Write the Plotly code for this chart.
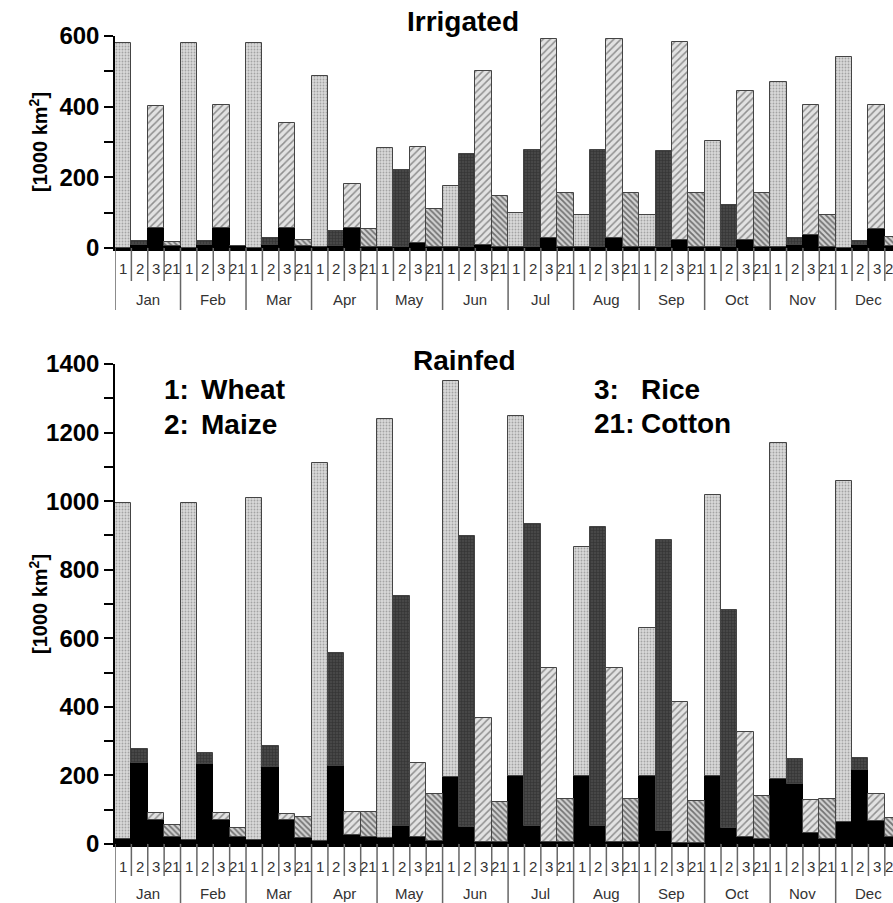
import plotly.graph_objects as go

months = ["Jan", "Feb", "Mar", "Apr", "May", "Jun", "Jul", "Aug", "Sep", "Oct", "Nov", "Dec"]
crop_labels = ["1", "2", "3", "21"]

# Irrigated: total height of each bar and its black (lower) part
irr_wheat = [580, 580, 580, 487, 282, 175, 99, 93, 93, 304, 470, 540]
irr_wheat_black = [0, 0, 0, 2, 3, 3, 3, 3, 3, 3, 2, 0]
irr_maize = [20, 20, 28, 49, 222, 265, 276, 276, 274, 121, 28, 20]
irr_maize_black = [8, 8, 8, 5, 3, 3, 3, 3, 3, 3, 8, 8]
irr_rice = [403, 406, 354, 180, 287, 501, 592, 592, 584, 445, 404, 404]
irr_rice_black = [58, 58, 58, 56, 13, 8, 28, 28, 22, 22, 38, 55]
irr_cotton = [16, 5, 24, 54, 110, 148, 156, 156, 156, 156, 93, 30]
irr_cotton_black = [5, 5, 5, 3, 3, 3, 3, 3, 3, 3, 3, 5]

# Rainfed
rf_wheat = [995, 995, 1010, 1112, 1240, 1350, 1248, 865, 630, 1019, 1170, 1060]
rf_wheat_black = [14, 12, 12, 8, 17, 196, 198, 198, 198, 198, 190, 65]
rf_maize = [276, 264, 287, 558, 723, 899, 932, 924, 886, 682, 247, 252]
rf_maize_black = [237, 233, 225, 228, 52, 49, 52, 52, 39, 48, 175, 216]
rf_rice = [90, 90, 87, 93, 235, 367, 513, 513, 415, 326, 127, 146]
rf_rice_black = [69, 69, 69, 27, 20, 7, 5, 5, 3, 20, 31, 67]
rf_cotton = [55, 47, 78, 93, 145, 122, 132, 132, 124, 140, 132, 77]
rf_cotton_black = [21, 21, 18, 21, 8, 7, 7, 5, 3, 16, 14, 20]

styles = [
    dict(bg="#d9d9d9", fg="#6e6e6e", shape=".", size=3, sol=0.3),   # wheat
    dict(bg="#474747", fg="#1e1e1e", shape="+", size=3, sol=0.35),  # maize
    dict(bg="#e2e2e2", fg="#3c3c3c", shape="/", size=5, sol=0.3),   # rice
    dict(bg="#d2d2d2", fg="#111111", shape="\\", size=4, sol=0.45), # cotton
]

FONT = "Liberation Sans, Arial, sans-serif"
W, H = 893, 903
L_PX, R_PX, T_PX, B_PX = 115, 893, 36, 844


def py(px):
    return (B_PX - px) / (B_PX - T_PX)


def pxx(px):
    return (px - L_PX) / (R_PX - L_PX)


fig = go.Figure()

panels = [
    ("x", "y", [irr_wheat, irr_maize, irr_rice, irr_cotton],
     [irr_wheat_black, irr_maize_black, irr_rice_black, irr_cotton_black]),
    ("x2", "y2", [rf_wheat, rf_maize, rf_rice, rf_cotton],
     [rf_wheat_black, rf_maize_black, rf_rice_black, rf_cotton_black]),
]

for xa, ya, totals, blacks in panels:
    for c in range(4):
        xs = [4 * g + c for g in range(12)]
        blk = blacks[c]
        top = [t - b for t, b in zip(totals[c], blk)]
        st = styles[c]
        fig.add_trace(go.Bar(
            x=xs, y=blk, width=1, xaxis=xa, yaxis=ya,
            marker=dict(color="#000000", line=dict(color="#000000", width=1)),
            showlegend=False, hoverinfo="skip"))
        fig.add_trace(go.Bar(
            x=xs, y=top, width=1, xaxis=xa, yaxis=ya,
            marker=dict(color=st["bg"], line=dict(color="#444444", width=1),
                        pattern=dict(shape=st["shape"], fgcolor=st["fg"], bgcolor=st["bg"],
                                     size=st["size"], solidity=st["sol"])),
            showlegend=False, hoverinfo="skip"))

annotations = []
shapes = []

# Category labels and separators for both panels
for xa, lab_y, mon_y, axis_y, short_y, long_y in [
    ("x", 268, 300, 248, 281, 310),
    ("x2", 866, 893, 844, 876, 903),
]:
    for g in range(12):
        for c in range(4):
            annotations.append(dict(
                x=4 * g + c, y=py(lab_y), xref=xa, yref="paper", text=crop_labels[c],
                showarrow=False, font=dict(family=FONT, size=15, color="#333333"),
                xanchor="center", yanchor="middle"))
        annotations.append(dict(
            x=4 * g + 1.5, y=py(mon_y), xref=xa, yref="paper", text=months[g],
            showarrow=False, font=dict(family=FONT, size=15, color="#333333"),
            xanchor="center", yanchor="middle"))
    for k in range(48):
        xb = k - 0.5
        y1 = long_y if k % 4 == 0 else short_y
        shapes.append(dict(type="line", xref=xa, yref="paper", x0=xb, x1=xb,
                           y0=py(axis_y), y1=py(y1),
                           line=dict(color="#666666", width=1.5)))

# Titles
annotations.append(dict(x=pxx(463), y=py(22), xref="paper", yref="paper", text="<b>Irrigated</b>",
                        showarrow=False, font=dict(family=FONT, size=28, color="#000"),
                        xanchor="center", yanchor="middle"))
annotations.append(dict(x=pxx(464), y=py(360), xref="paper", yref="paper", text="<b>Rainfed</b>",
                        showarrow=False, font=dict(family=FONT, size=28, color="#000"),
                        xanchor="center", yanchor="middle"))

# Crop key
for txt, xp, yp in [("1:", 163, 390), ("Wheat", 200, 390), ("2:", 163, 424), ("Maize", 200, 424),
                    ("3:", 593, 390), ("Rice", 640, 390), ("21:", 593, 423), ("Cotton", 640, 423)]:
    annotations.append(dict(x=pxx(xp), y=py(yp), xref="paper", yref="paper", text="<b>" + txt + "</b>",
                            showarrow=False, font=dict(family=FONT, size=28, color="#000"),
                            xanchor="left", yanchor="middle", borderpad=0))

# Y titles
for yc in [142, 604]:
    annotations.append(dict(x=pxx(38), y=py(yc), xref="paper", yref="paper",
                            text="<b>[1000 km<sup>2</sup>]</b>", textangle=-90,
                            showarrow=False, font=dict(family=FONT, size=20, color="#000"),
                            xanchor="center", yanchor="middle"))

xaxis_common = dict(range=[-0.5, 47.0], showticklabels=False, ticks="", showgrid=False,
                    zeroline=False, showline=True, linecolor="#000", linewidth=2.5, fixedrange=True)
yaxis_common = dict(showgrid=False, zeroline=False, showline=True, linecolor="#000", linewidth=1.5,
                    ticks="outside", ticklen=9, tickwidth=1.5, tickcolor="#000", dtick=200,
                    tickfont=dict(family=FONT, size=24, color="#000", weight="bold"),
                    minor=dict(dtick=100, ticks="outside", ticklen=9, tickwidth=1.5, tickcolor="#000"))

top_dom = [py(248), 1.0]
bot_dom = [0.0, py(364)]

fig.update_layout(
    width=W, height=H,
    margin=dict(l=L_PX, r=W - R_PX, t=T_PX, b=H - B_PX),
    paper_bgcolor="#ffffff", plot_bgcolor="rgba(0,0,0,0)",
    barmode="relative", bargap=0,
    xaxis=dict(**xaxis_common, anchor="y"),
    yaxis=dict(**yaxis_common, range=[0, 600], domain=top_dom, anchor="x"),
    xaxis2=dict(**xaxis_common, anchor="y2"),
    yaxis2=dict(**yaxis_common, range=[0, 1400], domain=bot_dom, anchor="x2"),
    annotations=annotations,
    shapes=shapes,
)

fig.write_html("out.html", config={"displayModeBar": False},
               post_script="document.body.style.margin='0';document.body.style.overflow='hidden';")
